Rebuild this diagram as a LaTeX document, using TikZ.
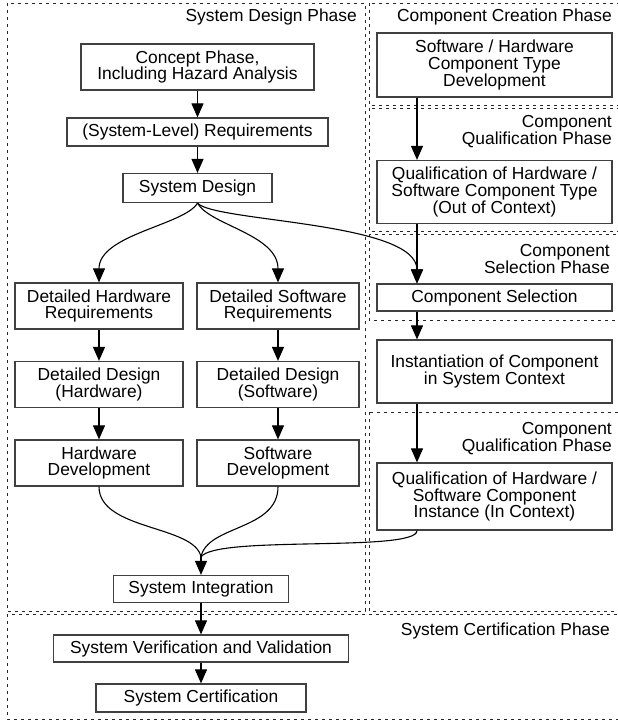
\documentclass[tikz,border=0pt]{standalone}
\usepackage{fontspec}
\setmainfont{Liberation Sans}
\usetikzlibrary{arrows.meta}
\begin{document}
\begin{tikzpicture}[x=1pt,y=-1pt,
  box/.style={draw=black!75, line width=1.2pt, fill=white, align=center, inner sep=0pt, font=\fontsize{17.4}{16.8}\selectfont},
  phase/.style={draw=black!85, line width=0.8pt, dash pattern=on 3pt off 4pt},
  lbl/.style={anchor=east, align=right, inner sep=0pt, font=\fontsize{17.4}{16.8}\selectfont},
  arr/.style={line width=1.1pt, -{Triangle[length=14pt,width=12pt]}},
  con/.style={line width=1.1pt}]
\useasboundingbox (0,0) rectangle (618,721);
% phases
\draw[phase] (7,3) rectangle (365,611);
\draw[phase] (369,3) rectangle (620,105);
\draw[phase] (369,108) rectangle (620,231);
\draw[phase] (369,234) rectangle (620,320);
\draw[phase] (369,412) rectangle (620,611);
\draw[phase] (7,614) rectangle (620,719);
\node[lbl] (lsdp) at (357,17) {System Design Phase};
\node[lbl] (lcc) at (612,17) {Component Creation Phase};
\node[lbl] (lcq) at (612,131.5) {Component\\Qualification Phase};
\node[lbl] (lcs) at (610,259) {Component\\Selection Phase};
\node[lbl] (lcq2) at (612,438.5) {Component\\Qualification Phase};
\node[lbl] (lcert) at (610,631) {System Certification Phase};
% left column
\node[box, minimum width=233pt, minimum height=46pt] (concept) at (197.5,67) {Concept Phase,\\Including Hazard Analysis};
\node[box, minimum width=261pt, minimum height=28pt] (sysreq) at (197.5,132) {(System-Level) Requirements};
\node[box, minimum width=149pt, minimum height=29pt] (sd) at (197.5,188) {System Design};
\node[box, minimum width=168pt, minimum height=46pt] (dhr) at (99,306) {Detailed Hardware\\Requirements};
\node[box, minimum width=162pt, minimum height=46pt] (dsr) at (278,306) {Detailed Software\\Requirements};
\node[box, minimum width=168pt, minimum height=46pt] (ddh) at (99,384.5) {Detailed Design\\(Hardware)};
\node[box, minimum width=162pt, minimum height=46pt] (dds) at (278,384.5) {Detailed Design\\(Software)};
\node[box, minimum width=168pt, minimum height=46pt] (hwd) at (99,463) {Hardware\\Development};
\node[box, minimum width=162pt, minimum height=46pt] (swd) at (278,463) {Software\\Development};
\node[box, minimum width=175pt, minimum height=27pt] (si) at (201,589) {System Integration};
\node[box, minimum width=295pt, minimum height=27pt] (vv) at (201,648.5) {System Verification and Validation};
\node[box, minimum width=210pt, minimum height=28pt] (cert) at (201,698) {System Certification};
% right column
\node[box, minimum width=235pt, minimum height=64pt] (cct) at (494.5,65) {Software / Hardware\\Component Type\\Development};
\node[box, minimum width=235pt, minimum height=63pt] (qt) at (494.5,192) {Qualification of Hardware /\\Software Component Type\\(Out of Context)};
\node[box, minimum width=235pt, minimum height=27pt] (cs) at (494.5,297.5) {Component Selection};
\node[box, minimum width=235pt, minimum height=63pt] (inst) at (494.5,371.5) {Instantiation of Component\\in System Context};
\node[box, minimum width=235pt, minimum height=67pt] (qi) at (494.5,496.5) {Qualification of Hardware /\\Software Component\\Instance (In Context)};
\coordinate (rc) at (417,0);
\coordinate (m) at (201,557);
% straight arrows
\draw[arr] (concept) -- (sysreq);
\draw[arr] (sysreq) -- (sd);
\draw[arr] (dhr) -- (ddh);
\draw[arr] (ddh) -- (hwd);
\draw[arr] (dsr) -- (dds);
\draw[arr] (dds) -- (swd);
\draw[arr] (si) -- (vv);
\draw[arr] (vv) -- (cert);
\draw[arr] (cct.south -| rc) -- (qt.north -| rc);
\draw[arr] (cs.south -| rc) -- (inst.north -| rc);
\draw[arr] (inst.south -| rc) -- (qi.north -| rc);
% curved arrows from system design
\draw[arr] (sd.south) .. controls +(-13,22) and +(0,-48) .. (dhr.north);
\draw[arr] (sd.south) .. controls +(12,22) and +(0,-48) .. (dsr.north);
\draw[arr] (sd.south) .. controls +(17,19) and +(0,-62) .. (cs.north -| rc);
\draw[arr] (qt.south -| rc) -- (cs.north -| rc);
% merging into system integration
\draw[con] (hwd.south) .. controls +(0,44) and +(-6,-32) .. (m);
\draw[con] (swd.south) .. controls +(0,44) and +(6,-32) .. (m);
\draw[con] (qi.south -| rc) .. controls +(0,22) and +(14,-22) .. (m);
\draw[arr] (m) -- (si);
\end{tikzpicture}
\end{document}
